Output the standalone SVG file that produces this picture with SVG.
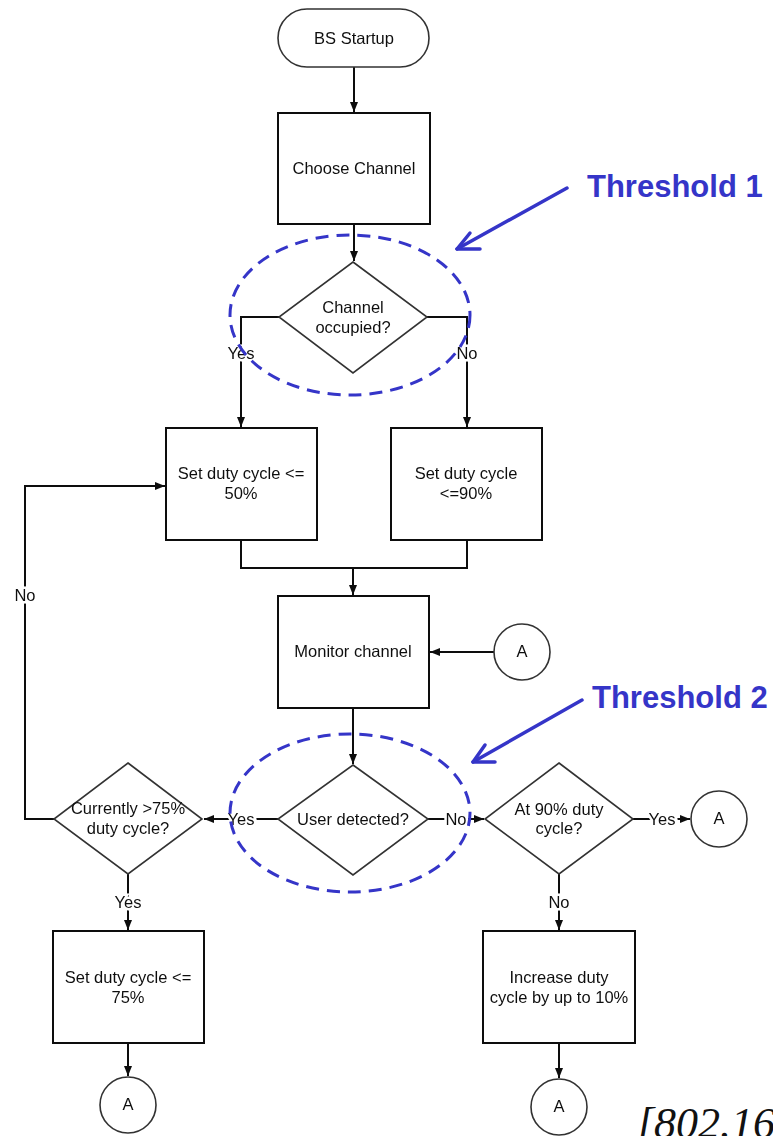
<svg xmlns="http://www.w3.org/2000/svg" width="773" height="1136" viewBox="0 0 773 1136">
  <defs>
    <marker id="arrow" markerUnits="userSpaceOnUse" markerWidth="10" markerHeight="10" viewBox="0 0 10 10" refX="10" refY="5" orient="auto">
      <path d="M0,1 L10,5 L0,9 Z" fill="#111"/>
    </marker>
    <filter id="soft" x="-5%" y="-5%" width="110%" height="110%">
      <feGaussianBlur stdDeviation="0.35"/>
    </filter>
    <style>
      .box { fill: #fff; stroke: #111; stroke-width: 2; }
      .dec { fill: #fff; stroke: #333; stroke-width: 1.6; }
      .term { fill: #fff; stroke: #333; stroke-width: 1.6; }
      .conn { fill: none; stroke: #111; stroke-width: 2; }
      .lbl { font-family: "Liberation Sans", Arial, sans-serif; font-size: 16.5px; fill: #111; text-anchor: middle; }
      .edge { font-family: "Liberation Sans", Arial, sans-serif; font-size: 16.5px; fill: #111; text-anchor: middle; stroke: #fff; stroke-width: 5; paint-order: stroke fill; }
      .ring { fill: none; stroke: #3535c8; stroke-width: 3; stroke-dasharray: 13 8; }
      .note { font-family: "Liberation Sans", Arial, sans-serif; font-size: 31px; font-weight: bold; fill: #3535c8; }
      .pointer { fill: none; stroke: #3535c8; stroke-width: 3.5; stroke-linecap: round; stroke-linejoin: round; }
    </style>
  </defs>

  <rect width="773" height="1136" fill="#fff"/>

  <g id="flowchart" filter="url(#soft)">
    <!-- connectors -->
    <g id="connectors">
      <path class="conn" d="M354,67 V112" marker-end="url(#arrow)"/>
      <path class="conn" d="M354,224 V261" marker-end="url(#arrow)"/>
      <path class="conn" d="M279,317 H241 V427" marker-end="url(#arrow)"/>
      <path class="conn" d="M427,317 H467 V427" marker-end="url(#arrow)"/>
      <path class="conn" d="M241,540 V568 H467 V540"/>
      <path class="conn" d="M353,568 V595" marker-end="url(#arrow)"/>
      <path class="conn" d="M494,652 H430" marker-end="url(#arrow)"/>
      <path class="conn" d="M353,708 V764" marker-end="url(#arrow)"/>
      <path class="conn" d="M278,819 H204" marker-end="url(#arrow)"/>
      <path class="conn" d="M428,819 H484" marker-end="url(#arrow)"/>
      <path class="conn" d="M633,819 H690" marker-end="url(#arrow)"/>
      <path class="conn" d="M559,874 V930" marker-end="url(#arrow)"/>
      <path class="conn" d="M128,874 V930" marker-end="url(#arrow)"/>
      <path class="conn" d="M54,819 H25 V486 H165" marker-end="url(#arrow)"/>
      <path class="conn" d="M128,1043 V1076" marker-end="url(#arrow)"/>
      <path class="conn" d="M559,1043 V1078" marker-end="url(#arrow)"/>
      <!-- branch labels -->
      <text class="edge" x="241" y="359">Yes</text>
      <text class="edge" x="467" y="359">No</text>
      <text class="edge" x="241" y="825">Yes</text>
      <text class="edge" x="456" y="825">No</text>
      <text class="edge" x="662" y="825">Yes</text>
      <text class="edge" x="559" y="908">No</text>
      <text class="edge" x="128" y="908">Yes</text>
      <text class="edge" x="25" y="601">No</text>
    </g>

    <g id="bs-startup">
      <rect class="term" x="278" y="9" width="151" height="58" rx="29" ry="29"/>
      <text class="lbl" x="354" y="44">BS Startup</text>
    </g>

    <g id="choose-channel">
      <rect class="box" x="278" y="113" width="152" height="111"/>
      <text class="lbl" x="354" y="174">Choose Channel</text>
    </g>

    <g id="channel-occupied">
      <polygon class="dec" points="353,262 427,317 353,373 279,317"/>
      <text class="lbl" x="353" y="313">Channel</text>
      <text class="lbl" x="353" y="333">occupied?</text>
    </g>

    <g id="set-50">
      <rect class="box" x="166" y="428" width="151" height="112"/>
      <text class="lbl" x="241" y="479">Set duty cycle &lt;=</text>
      <text class="lbl" x="241" y="499">50%</text>
    </g>

    <g id="set-90">
      <rect class="box" x="391" y="428" width="151" height="112"/>
      <text class="lbl" x="466" y="479">Set duty cycle</text>
      <text class="lbl" x="466" y="499">&lt;=90%</text>
    </g>

    <g id="monitor-channel">
      <rect class="box" x="278" y="596" width="151" height="112"/>
      <text class="lbl" x="353" y="657">Monitor channel</text>
    </g>

    <g id="connector-a-1">
      <circle class="term" cx="522" cy="652" r="28"/>
      <text class="lbl" x="522" y="657">A</text>
    </g>

    <g id="user-detected">
      <polygon class="dec" points="353,765 428,819 353,875 278,819"/>
      <text class="lbl" x="353" y="825">User detected?</text>
    </g>

    <g id="currently-75">
      <polygon class="dec" points="128,763 202,819 128,874 54,819"/>
      <text class="lbl" x="128" y="814">Currently &gt;75%</text>
      <text class="lbl" x="128" y="834">duty cycle?</text>
    </g>

    <g id="at-90">
      <polygon class="dec" points="559,763 633,819 559,874 485,819"/>
      <text class="lbl" x="559" y="815">At 90% duty</text>
      <text class="lbl" x="559" y="834">cycle?</text>
    </g>

    <g id="connector-a-2">
      <circle class="term" cx="719" cy="819" r="28"/>
      <text class="lbl" x="719" y="824">A</text>
    </g>

    <g id="set-75">
      <rect class="box" x="53" y="931" width="151" height="112"/>
      <text class="lbl" x="128" y="983">Set duty cycle &lt;=</text>
      <text class="lbl" x="128" y="1003">75%</text>
    </g>

    <g id="increase-duty">
      <rect class="box" x="483" y="931" width="152" height="112"/>
      <text class="lbl" x="559" y="983">Increase duty</text>
      <text class="lbl" x="559" y="1003">cycle by up to 10%</text>
    </g>

    <g id="connector-a-3">
      <circle class="term" cx="128" cy="1105" r="28"/>
      <text class="lbl" x="128" y="1110">A</text>
    </g>

    <g id="connector-a-4">
      <circle class="term" cx="559" cy="1107" r="28"/>
      <text class="lbl" x="559" y="1112">A</text>
    </g>
  </g>

  <!-- threshold annotations -->
  <g id="threshold-1">
    <ellipse class="ring" cx="350" cy="315" rx="120" ry="80"/>
    <path class="pointer" d="M567,188 L457,249"/>
    <path class="pointer" d="M470,233 L457,249 L480,249"/>
    <text class="note" x="587" y="197">Threshold 1</text>
  </g>

  <g id="threshold-2">
    <ellipse class="ring" cx="350" cy="813" rx="120" ry="79"/>
    <path class="pointer" d="M582,700 L473,762"/>
    <path class="pointer" d="M485,745 L473,762 L495,762"/>
    <text class="note" x="592" y="708">Threshold 2</text>
  </g>

  <text id="citation" x="637" y="1138" font-family="'Liberation Serif', 'Times New Roman', serif" font-style="italic" font-size="44" fill="#111">[802.16</text>
</svg>
